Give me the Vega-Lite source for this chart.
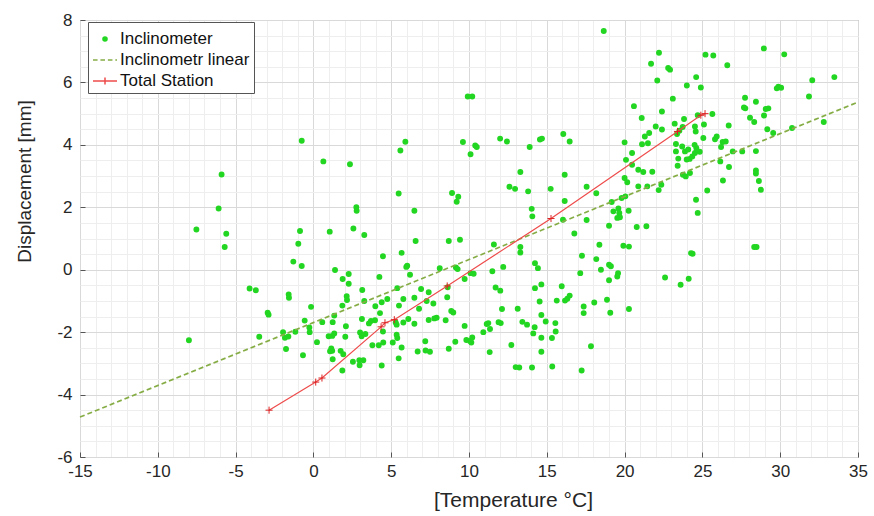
{
  "$schema": "https://vega.github.io/schema/vega-lite/v6.json",
  "description": "Displacement vs temperature: inclinometer scatter, its linear fit and total station readings.",
  "width": 778,
  "height": 437,
  "autosize": {"type": "none"},
  "padding": {"left": 80, "top": 20, "right": 16, "bottom": 59},
  "datasets": {
    "incl": [
      {"t": -5.9, "d": 3.05}, {"t": -6.09, "d": 1.96}, {"t": -7.52, "d": 1.29}, {"t": -5.6, "d": 1.15}, {"t": -5.7, "d": 0.73},
      {"t": -4.1, "d": -0.6}, {"t": -3.7, "d": -0.66}, {"t": -8.0, "d": -2.26}, {"t": -0.75, "d": 4.13}, {"t": 0.64, "d": 3.47},
      {"t": 2.35, "d": 3.38},
      {"t": -2.94, "d": -1.38}, {"t": -2.88, "d": -1.44}, {"t": -3.48, "d": -2.15}, {"t": -1.59, "d": -0.79}, {"t": -1.57, "d": -0.9},
      {"t": -0.15, "d": -1.19}, {"t": -0.56, "d": -1.63}, {"t": -1.95, "d": -2.0}, {"t": -1.16, "d": -1.99}, {"t": -1.83, "d": -2.18},
      {"t": -1.61, "d": -2.14}, {"t": -1.76, "d": -2.54}, {"t": -0.26, "d": -1.85}, {"t": -0.24, "d": -2.0}, {"t": 0.57, "d": -1.68},
      {"t": 0.23, "d": -2.32}, {"t": -0.67, "d": -2.74}, {"t": 1.39, "d": -0.01}, {"t": 1.88, "d": -0.3}, {"t": 2.27, "d": -0.14},
      {"t": 2.27, "d": -0.45}, {"t": 2.14, "d": -0.85}, {"t": 2.16, "d": -0.97}, {"t": 1.86, "d": -1.15}, {"t": 1.34, "d": -1.47},
      {"t": 1.24, "d": -1.68}, {"t": 2.09, "d": -1.81}, {"t": 0.98, "d": -2.13}, {"t": 1.21, "d": -2.12}, {"t": 1.34, "d": -2.04},
      {"t": 2.05, "d": -2.15}, {"t": 1.15, "d": -2.52}, {"t": 1.21, "d": -2.6}, {"t": 1.07, "d": -2.61}, {"t": 1.75, "d": -2.6},
      {"t": 1.92, "d": -2.71}, {"t": 1.24, "d": -2.87}, {"t": 1.86, "d": -3.23}, {"t": 2.54, "d": -2.95}, {"t": 2.95, "d": -2.9},
      {"t": 3.21, "d": -2.9}, {"t": 2.97, "d": -3.06}, {"t": 3.14, "d": -0.65}, {"t": 3.27, "d": -1.0}, {"t": 3.12, "d": -1.58},
      {"t": 3.0, "d": -2.01}, {"t": 3.1, "d": -2.13}, {"t": 3.34, "d": -2.06}, {"t": 3.57, "d": -1.72}, {"t": 3.7, "d": -1.64},
      {"t": 3.96, "d": -1.62}, {"t": 3.98, "d": -1.17}, {"t": 3.79, "d": -2.42}, {"t": 4.2, "d": -2.42}, {"t": 4.24, "d": -0.23},
      {"t": 5.91, "d": 4.1}, {"t": 5.59, "d": 3.82}, {"t": 9.61, "d": 4.09}, {"t": 10.4, "d": 3.98}, {"t": 10.5, "d": 3.93},
      {"t": 10.1, "d": 3.7}, {"t": 12.0, "d": 4.2}, {"t": 12.44, "d": 4.11}, {"t": 13.9, "d": 3.93}, {"t": 13.3, "d": 3.13},
      {"t": 12.6, "d": 2.66}, {"t": 12.96, "d": 2.59}, {"t": 13.8, "d": 2.51}, {"t": 5.48, "d": 2.44}, {"t": 8.91, "d": 2.46},
      {"t": 9.31, "d": 2.34}, {"t": 9.21, "d": 2.18}, {"t": 6.49, "d": 1.89}, {"t": 2.76, "d": 2.0}, {"t": 2.78, "d": 1.89},
      {"t": -0.86, "d": 1.24}, {"t": -0.97, "d": 0.83}, {"t": 1.05, "d": 1.22}, {"t": 2.57, "d": 1.32}, {"t": 3.27, "d": 1.11},
      {"t": -1.29, "d": 0.26}, {"t": -0.75, "d": 0.12}, {"t": 4.47, "d": 0.43}, {"t": 5.67, "d": 0.54}, {"t": 6.57, "d": 0.92},
      {"t": 8.7, "d": 0.92}, {"t": 9.42, "d": 0.96}, {"t": 6.03, "d": 0.13}, {"t": 5.97, "d": 0.09}, {"t": 6.21, "d": -0.16},
      {"t": 8.12, "d": 0.05}, {"t": 9.16, "d": 0.07}, {"t": 9.27, "d": 0.02}, {"t": 10.1, "d": -0.11}, {"t": 10.3, "d": -0.13},
      {"t": 11.5, "d": -0.05}, {"t": 12.2, "d": 0.09}, {"t": 11.6, "d": 0.81}, {"t": 13.3, "d": 0.73}, {"t": 13.3, "d": 0.55},
      {"t": 9.72, "d": -0.3},
      {"t": 17.15, "d": -0.11}, {"t": 4.39, "d": -1.04}, {"t": 4.75, "d": -0.94}, {"t": 5.39, "d": -0.59}, {"t": 5.78, "d": -0.94},
      {"t": 6.49, "d": -0.9}, {"t": 6.92, "d": -0.62}, {"t": 7.41, "d": -0.72}, {"t": 7.28, "d": -1.0}, {"t": 7.71, "d": -1.08},
      {"t": 6.79, "d": -1.25}, {"t": 8.63, "d": -0.56}, {"t": 8.6, "d": -0.88}, {"t": 8.86, "d": -1.32}, {"t": 8.99, "d": -1.37},
      {"t": 4.28, "d": -1.39}, {"t": 5.5, "d": -1.15}, {"t": 6.1, "d": -1.58}, {"t": 5.78, "d": -1.69}, {"t": 6.49, "d": -1.73},
      {"t": 5.29, "d": -1.69}, {"t": 5.35, "d": -1.76}, {"t": 7.41, "d": -1.61}, {"t": 7.77, "d": -1.56}, {"t": 7.92, "d": -1.54},
      {"t": 8.5, "d": -1.62}, {"t": 4.47, "d": -1.98}, {"t": 4.49, "d": -2.33}, {"t": 5.35, "d": -2.08}, {"t": 5.39, "d": -2.19},
      {"t": 5.1, "d": -2.33}, {"t": 5.67, "d": -2.49}, {"t": 5.48, "d": -2.84}, {"t": 4.39, "d": -3.07}, {"t": 6.7, "d": -2.62},
      {"t": 7.19, "d": -2.29}, {"t": 7.21, "d": -2.59}, {"t": 7.49, "d": -2.63}, {"t": 8.7, "d": -2.53}, {"t": 9.12, "d": -2.31},
      {"t": 9.72, "d": -1.8}, {"t": 9.83, "d": -2.25}, {"t": 10.06, "d": -2.28}, {"t": 10.21, "d": -2.17}, {"t": 10.15, "d": -2.33},
      {"t": 10.92, "d": -2.0}, {"t": 11.14, "d": -1.74}, {"t": 11.24, "d": -1.71}, {"t": 11.35, "d": -1.9}, {"t": 11.33, "d": -2.64},
      {"t": 11.71, "d": -0.57}, {"t": 12.01, "d": -0.67}, {"t": 12.12, "d": -1.26}, {"t": 11.9, "d": -1.68}, {"t": 12.04, "d": -1.71},
      {"t": 12.72, "d": -2.41}, {"t": 13.13, "d": -1.25}, {"t": 13.43, "d": -1.67}, {"t": 13.73, "d": -1.76}, {"t": 13.0, "d": -3.12},
      {"t": 13.23, "d": -3.13}, {"t": 14.05, "d": -3.13}, {"t": 14.24, "d": -0.59}, {"t": 14.65, "d": -0.47}, {"t": 14.54, "d": -1.02},
      {"t": 14.65, "d": -1.45}, {"t": 14.93, "d": -1.66}, {"t": 14.22, "d": -1.84}, {"t": 14.13, "d": -2.04}, {"t": 14.65, "d": -2.18},
      {"t": 14.65, "d": -2.63}, {"t": 15.33, "d": -2.19}, {"t": 15.35, "d": -3.1}, {"t": 15.55, "d": -1.71}, {"t": 15.57, "d": -1.98},
      {"t": 15.96, "d": -0.53}, {"t": 15.64, "d": -0.99}, {"t": 16.17, "d": -0.99}, {"t": 16.32, "d": -0.93}, {"t": 16.47, "d": -0.83},
      {"t": 17.37, "d": -1.18}, {"t": 17.37, "d": -1.39}, {"t": 18.05, "d": -1.05}, {"t": 17.84, "d": -2.45}, {"t": 17.24, "d": -3.23},
      {"t": 14.56, "d": 4.17}, {"t": 14.69, "d": 4.2}, {"t": 16.06, "d": 4.35}, {"t": 16.47, "d": 4.11}, {"t": 16.15, "d": 3.04},
      {"t": 15.25, "d": 2.59}, {"t": 14.03, "d": 1.95}, {"t": 14.07, "d": 1.71}, {"t": 16.15, "d": 2.2}, {"t": 16.04, "d": 1.6},
      {"t": 17.56, "d": 2.66}, {"t": 18.18, "d": 2.45}, {"t": 17.56, "d": 1.59}, {"t": 16.77, "d": 1.16}, {"t": 19.0, "d": 1.41},
      {"t": 19.17, "d": 2.17}, {"t": 19.28, "d": 1.87}, {"t": 19.6, "d": 1.96}, {"t": 19.66, "d": 1.82}, {"t": 19.7, "d": 1.68},
      {"t": 19.81, "d": 2.3}, {"t": 19.53, "d": 1.66}, {"t": 20.0, "d": 4.08}, {"t": 20.48, "d": 3.74}, {"t": 20.09, "d": 3.52},
      {"t": 20.48, "d": 3.36}, {"t": 20.0, "d": 2.94}, {"t": 20.17, "d": 2.8}, {"t": 20.05, "d": 2.35}, {"t": 20.26, "d": 1.89},
      {"t": 20.88, "d": 3.2}, {"t": 21.2, "d": 3.13}, {"t": 21.78, "d": 3.14}, {"t": 20.88, "d": 2.67}, {"t": 21.46, "d": 2.67},
      {"t": 20.78, "d": 1.37}, {"t": 21.4, "d": 1.39}, {"t": 18.38, "d": 0.8}, {"t": 17.26, "d": 0.45}, {"t": 18.18, "d": 0.34},
      {"t": 19.0, "d": 0.16}, {"t": 19.12, "d": 0.11}, {"t": 18.48, "d": 0.0}, {"t": 19.58, "d": -0.11}, {"t": 19.53, "d": -0.22},
      {"t": 19.92, "d": 0.77}, {"t": 20.28, "d": 0.74}, {"t": 14.24, "d": 0.21}, {"t": 14.43, "d": 0.05}, {"t": 21.1, "d": 4.86},
      {"t": 22.4, "d": 5.07}, {"t": 22.0, "d": 4.59}, {"t": 21.3, "d": 4.27}, {"t": 21.58, "d": 4.38}, {"t": 21.12, "d": 4.02},
      {"t": 21.5, "d": 4.05}, {"t": 22.4, "d": 4.49}, {"t": 23.22, "d": 4.68}, {"t": 23.82, "d": 4.83}, {"t": 23.73, "d": 4.57},
      {"t": 23.37, "d": 4.35}, {"t": 23.52, "d": 4.45}, {"t": 23.3, "d": 4.03}, {"t": 23.7, "d": 3.95}, {"t": 23.3, "d": 3.79},
      {"t": 23.45, "d": 3.56}, {"t": 23.41, "d": 3.33}, {"t": 23.88, "d": 3.79}, {"t": 24.09, "d": 3.85}, {"t": 24.18, "d": 3.55},
      {"t": 24.35, "d": 3.63}, {"t": 24.5, "d": 4.0}, {"t": 24.52, "d": 3.74}, {"t": 23.99, "d": 3.53}, {"t": 24.61, "d": 3.9},
      {"t": 24.83, "d": 3.78}, {"t": 23.75, "d": 3.04}, {"t": 23.93, "d": 2.99}, {"t": 24.2, "d": 3.1}, {"t": 22.36, "d": 2.72},
      {"t": 22.19, "d": 2.55}, {"t": 24.59, "d": 2.24}, {"t": 24.7, "d": 1.82}, {"t": 24.27, "d": 0.53}, {"t": 24.37, "d": 0.51},
      {"t": 22.6, "d": -0.25}, {"t": 24.12, "d": -0.29}, {"t": 24.7, "d": 4.95}, {"t": 25.64, "d": 4.99}, {"t": 24.52, "d": 4.59},
      {"t": 25.1, "d": 4.65}, {"t": 24.57, "d": 4.43}, {"t": 25.06, "d": 4.22}, {"t": 25.81, "d": 4.18}, {"t": 25.92, "d": 4.27},
      {"t": 26.3, "d": 4.09}, {"t": 26.2, "d": 3.93}, {"t": 26.5, "d": 4.11}, {"t": 26.15, "d": 3.47}, {"t": 26.71, "d": 3.29},
      {"t": 26.69, "d": 4.62}, {"t": 26.32, "d": 2.86}, {"t": 25.31, "d": 2.54},
      {"t": 19.0, "d": -0.34}, {"t": 23.6, "d": -0.48}, {"t": 18.87, "d": -0.96}, {"t": 19.08, "d": -1.38}, {"t": 20.28, "d": -1.26},
      {"t": 18.66, "d": 7.65}, {"t": 9.92, "d": 5.55}, {"t": 10.21, "d": 5.55},
      {"t": 22.21, "d": 6.95}, {"t": 21.7, "d": 6.6}, {"t": 22.8, "d": 6.46}, {"t": 22.92, "d": 6.41}, {"t": 22.1, "d": 6.06},
      {"t": 24.6, "d": 6.17}, {"t": 24.0, "d": 5.9}, {"t": 24.9, "d": 5.84}, {"t": 23.1, "d": 5.48}, {"t": 20.6, "d": 5.24},
      {"t": 25.2, "d": 6.89}, {"t": 25.7, "d": 6.86}, {"t": 26.6, "d": 6.55}, {"t": 28.95, "d": 7.09}, {"t": 30.26, "d": 6.9},
      {"t": 32.06, "d": 6.07}, {"t": 33.48, "d": 6.17}, {"t": 29.78, "d": 5.81}, {"t": 29.88, "d": 5.86}, {"t": 30.06, "d": 5.83},
      {"t": 31.85, "d": 5.55}, {"t": 27.74, "d": 5.51}, {"t": 28.44, "d": 5.38}, {"t": 27.67, "d": 5.2}, {"t": 27.76, "d": 5.17},
      {"t": 29.07, "d": 5.15}, {"t": 29.24, "d": 5.17}, {"t": 28.96, "d": 4.94}, {"t": 28.06, "d": 4.87},
      {"t": 28.33, "d": 4.73}, {"t": 29.17, "d": 4.5}, {"t": 29.55, "d": 4.38}, {"t": 30.76, "d": 4.54}, {"t": 32.8, "d": 4.73},
      {"t": 26.95, "d": 3.79}, {"t": 27.56, "d": 3.79}, {"t": 28.44, "d": 3.8}, {"t": 28.44, "d": 3.18}, {"t": 28.44, "d": 3.08},
      {"t": 28.63, "d": 2.84}, {"t": 28.76, "d": 2.56}, {"t": 28.33, "d": 0.73}, {"t": 28.48, "d": 0.73}
    ],
    "linear": [
      {"t": -15, "d": -4.72},
      {"t": 35, "d": 5.37}
    ],
    "station": [
      {"t": -2.85, "d": -4.5},
      {"t": 0.15, "d": -3.6},
      {"t": 0.55, "d": -3.47},
      {"t": 4.35, "d": -1.83},
      {"t": 4.6, "d": -1.7},
      {"t": 5.2, "d": -1.6},
      {"t": 8.6, "d": -0.52},
      {"t": 15.27, "d": 1.64},
      {"t": 23.4, "d": 4.43},
      {"t": 24.9, "d": 4.95},
      {"t": 25.17, "d": 5.0}
    ]
  },
  "encoding": {
    "x": {
      "field": "t",
      "type": "quantitative",
      "scale": {"domain": [-15, 35], "nice": false, "zero": false},
      "axis": {
        "title": "[Temperature °C]",
        "titleFontSize": 21,
        "titleX": 433,
        "values": [-15, -14, -13, -12, -11, -10, -9, -8, -7, -6, -5, -4, -3, -2, -1, 0, 1, 2, 3, 4, 5, 6, 7, 8, 9, 10, 11, 12, 13, 14, 15, 16, 17, 18, 19, 20, 21, 22, 23, 24, 25, 26, 27, 28, 29, 30, 31, 32, 33, 34, 35],
        "labelExpr": "datum.value % 5 === 0 ? '' + datum.value : ''",
        "gridColor": {"condition": {"test": "datum.value % 5 === 0", "value": "#d9d9d9"}, "value": "#eeeeee"},
        "tickOpacity": {"condition": {"test": "datum.value % 5 === 0", "value": 1}, "value": 0},
        "labelPadding": 11,
        "titlePadding": 10
      }
    },
    "y": {
      "field": "d",
      "type": "quantitative",
      "scale": {"domain": [-6, 8], "nice": false, "zero": false},
      "axis": {
        "title": "Displacement [mm]",
        "titleFontSize": 19,
        "titleY": 161,
        "values": [-6, -5.5, -5, -4.5, -4, -3.5, -3, -2.5, -2, -1.5, -1, -0.5, 0, 0.5, 1, 1.5, 2, 2.5, 3, 3.5, 4, 4.5, 5, 5.5, 6, 6.5, 7, 7.5, 8],
        "labelExpr": "datum.value % 2 === 0 ? '' + datum.value : ''",
        "gridColor": {"condition": {"test": "datum.value % 2 === 0", "value": "#d9d9d9"}, "value": "#eeeeee"},
        "tickOpacity": {"condition": {"test": "datum.value % 2 === 0", "value": 1}, "value": 0},
        "labelPadding": 13,
        "titlePadding": 22
      }
    }
  },
  "layer": [
    {
      "data": {"name": "incl"},
      "mark": {"type": "point", "filled": true, "size": 676, "opacity": 1, "strokeWidth": 1.5},
      "encoding": {
        "fill": {
          "datum": "Inclinometer",
          "type": "nominal",
          "scale": {
            "domain": ["Inclinometer", "Inclinometr linear", "Total Station"],
            "range": ["#22d622", "#86ad45", "#ee4b4b"]
          },
          "legend": {
            "title": null,
            "orient": "none",
            "legendX": 8,
            "legendY": 2,
            "fillColor": "white",
            "strokeColor": "#555555",
            "padding": 4,
            "labelFontSize": 17,
            "labelColor": "#111111",
            "labelOffset": 2,
            "labelLimit": 300,
            "rowPadding": 0,
            "symbolSize": 576,
            "symbolStrokeWidth": 1.5
          }
        },
        "stroke": {
          "datum": "Inclinometer",
          "type": "nominal",
          "scale": {
            "domain": ["Inclinometer", "Inclinometr linear", "Total Station"],
            "range": ["#22d622", "#86ad45", "#ee4b4b"]
          },
          "legend": {
            "title": null,
            "orient": "none",
            "legendX": 8,
            "legendY": 2,
            "fillColor": "white",
            "strokeColor": "#555555",
            "padding": 4,
            "labelFontSize": 17,
            "labelColor": "#111111",
            "labelOffset": 2,
            "labelLimit": 300,
            "rowPadding": 0,
            "symbolSize": 576,
            "symbolStrokeWidth": 1.5
          }
        },
        "shape": {
          "datum": "Inclinometer",
          "type": "nominal",
          "scale": {
            "domain": ["Inclinometer", "Inclinometr linear", "Total Station"],
            "range": [
              "M0.17,0A0.17,0.17 0 1,1 -0.17,0A0.17,0.17 0 1,1 0.17,0Z",
              "M-1,0H-0.62M-0.38,0H0M0.24,0H0.62M0.86,0H1",
              "M-1,0H1M0,-0.3V0.3"
            ]
          },
          "legend": {
            "title": null,
            "orient": "none",
            "legendX": 8,
            "legendY": 2,
            "fillColor": "white",
            "strokeColor": "#555555",
            "padding": 4,
            "labelFontSize": 17,
            "labelColor": "#111111",
            "labelOffset": 2,
            "labelLimit": 300,
            "rowPadding": 0,
            "symbolSize": 576,
            "symbolStrokeWidth": 1.5
          }
        }
      }
    },
    {
      "data": {"name": "linear"},
      "mark": {"type": "line", "strokeDash": [5, 3], "strokeWidth": 1.7, "color": "#86ad45"},
      "encoding": {}
    },
    {
      "data": {"name": "station"},
      "mark": {
        "type": "line",
        "strokeWidth": 1.2,
        "color": "#ee4b4b",
        "point": {"filled": false, "shape": "M-1,0H1M0,-1V1", "size": 50, "strokeWidth": 1, "color": "#dd2222"}
      },
      "encoding": {}
    }
  ],
  "config": {
    "font": "Liberation Sans",
    "view": {"stroke": "#9a9a9a", "strokeWidth": 1},
    "axis": {
      "labelFontSize": 17,
      "labelColor": "#262626",
      "titleFontWeight": "normal",
      "titleColor": "#262626",
      "domain": false,
      "ticks": true,
      "tickSize": -5,
      "tickColor": "#555555",
      "gridOpacity": 1,
      "labelOverlap": false,
      "labelFlush": false
    }
  }
}
